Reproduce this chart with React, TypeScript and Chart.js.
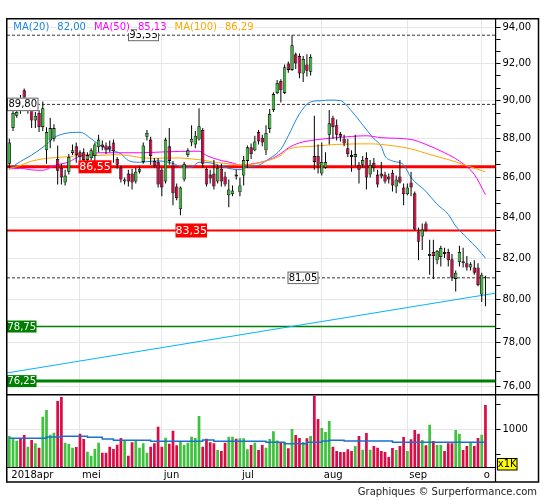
import React, { useEffect, useRef } from 'react';
import { Chart, registerables } from 'chart.js';

Chart.register(...registerables);

// ---------- data ----------
const monthIdx = [0, 19, 41, 62, 84, 107, 127];
const monthLabels = ['2018apr', 'mei', 'jun', 'jul', 'aug', 'sep', 'o'];

const opens = [
  86.70, 88.55, 89.20, 90.00, 90.55, 89.60, 89.75, 88.95, 89.35, 88.60,
  87.40, 87.90, 88.00, 86.95, 86.50, 85.75, 86.30, 87.25, 87.60, 87.30,
  87.30, 86.90, 87.00, 87.10, 87.55, 87.70, 87.65, 87.60, 87.80, 86.95,
  86.50, 85.80, 86.20, 86.20, 85.80, 86.30, 86.80, 88.10, 87.95, 86.85,
  86.80, 86.40, 85.80, 87.60, 86.60, 85.55, 84.40, 85.90, 87.15, 87.80,
  87.70, 87.95, 88.45, 86.45, 86.15, 86.20, 85.80, 86.45, 86.05, 85.10,
  85.15, 86.15, 85.25, 86.10, 86.85, 87.55, 87.40, 88.35, 88.05, 87.40,
  88.50, 89.50, 90.40, 91.05, 90.40, 92.00, 91.65, 92.50, 92.40, 91.45,
  91.95, 91.55, 87.10, 87.10, 86.20, 86.50, 88.20, 89.10, 88.70, 88.25,
  88.00, 87.50, 87.15, 87.05, 86.65, 86.65, 87.00, 86.15, 86.75, 86.15,
  86.20, 86.15, 86.05, 86.25, 85.55, 86.05, 85.50, 85.15, 85.75, 85.20,
  83.30, 83.05, 83.70, 82.10, 82.30, 81.90, 82.05, 82.30, 82.30, 81.95,
  81.00, 81.80, 81.85, 81.75, 81.55, 81.55, 81.55, 80.25, 81.10,
];
const highs = [
  88.00, 89.50, 89.75, 90.30, 90.65, 90.10, 90.00, 89.40, 89.50, 89.95,
  88.60, 89.10, 88.75, 87.65, 86.70, 86.40, 87.20, 87.70, 87.80, 87.40,
  87.50, 87.30, 87.50, 87.80, 88.20, 87.90, 87.80, 87.90, 87.95, 87.05,
  86.60, 86.00, 86.40, 86.45, 86.50, 86.60, 87.80, 88.45, 88.10, 87.00,
  87.00, 86.50, 88.05, 88.55, 86.85, 85.70, 85.55, 86.80, 87.50, 88.70,
  88.40, 89.60, 88.55, 86.50, 86.40, 86.90, 86.65, 86.70, 86.30, 85.90,
  85.60, 86.40, 86.00, 87.10, 87.65, 87.75, 88.15, 88.45, 88.20, 88.70,
  89.55, 90.45, 91.10, 91.15, 91.95, 92.10, 93.55, 92.60, 92.55, 92.40,
  92.50, 92.50, 89.20, 87.70, 87.80, 87.30, 89.50, 89.20, 89.00, 88.35,
  88.20, 88.00, 87.40, 88.20, 86.80, 87.10, 87.30, 86.90, 87.00, 86.40,
  86.80, 86.30, 86.20, 86.40, 86.10, 86.90, 85.70, 85.70, 86.30, 85.30,
  83.50, 83.70, 83.80, 82.90, 82.90, 82.40, 82.60, 82.50, 82.45, 82.20,
  81.40, 82.60, 82.50, 82.10, 81.80, 81.90, 81.75, 81.30, 81.15,
];
const lows = [
  86.50, 88.40, 89.10, 89.30, 89.90, 89.30, 88.55, 88.55, 88.35, 88.40,
  86.70, 87.50, 87.85, 85.65, 85.65, 85.60, 86.15, 87.15, 86.75, 86.90,
  86.80, 86.80, 86.90, 86.80, 87.30, 87.40, 87.20, 87.30, 86.75, 86.45,
  85.75, 85.65, 85.55, 85.40, 85.70, 86.20, 86.70, 87.90, 86.65, 86.50,
  85.50, 85.05, 85.70, 86.65, 84.60, 84.85, 84.10, 85.80, 87.05, 87.60,
  87.50, 87.90, 86.50, 85.55, 85.70, 85.40, 85.70, 85.55, 85.55, 84.50,
  85.05, 85.90, 85.05, 85.60, 86.50, 86.95, 87.35, 87.70, 87.60, 87.15,
  88.30, 89.40, 90.35, 89.90, 90.35, 91.50, 91.60, 91.70, 91.20, 91.00,
  91.30, 91.35, 86.40, 86.20, 86.10, 86.45, 87.70, 88.00, 87.90, 87.85,
  87.60, 87.05, 86.30, 86.60, 85.70, 86.50, 85.40, 86.00, 86.30, 85.50,
  85.95, 85.70, 85.70, 85.30, 85.20, 85.70, 84.60, 85.10, 85.05, 83.35,
  81.90, 82.40, 83.30, 81.20, 81.00, 81.70, 81.60, 82.00, 81.60, 80.90,
  80.40, 81.60, 81.55, 81.40, 81.40, 81.20, 80.65, 79.90, 79.70,
];
const closes = [
  87.80, 89.35, 89.40, 89.50, 90.15, 89.90, 88.95, 89.20, 88.60, 89.60,
  88.35, 88.55, 88.55, 86.35, 86.00, 86.10, 87.05, 87.40, 87.15, 87.05,
  86.90, 87.15, 87.40, 87.70, 87.95, 87.55, 87.40, 87.45, 87.35, 86.65,
  85.90, 85.90, 85.80, 85.75, 86.30, 86.45, 87.65, 88.30, 87.10, 86.60,
  85.65, 85.50, 87.95, 86.85, 85.20, 84.95, 85.50, 86.70, 87.40, 88.00,
  88.15, 88.65, 86.70, 85.65, 85.95, 85.55, 86.50, 85.80, 85.65, 85.40,
  85.35, 86.05, 85.60, 86.90, 87.55, 87.20, 87.85, 87.85, 87.80, 88.30,
  89.30, 90.35, 90.95, 90.55, 91.80, 91.65, 93.00, 92.00, 91.45, 92.25,
  91.60, 92.35, 86.80, 86.65, 86.80, 86.80, 88.80, 88.60, 88.20, 88.10,
  87.75, 87.20, 87.05, 87.20, 86.40, 86.90, 86.00, 86.65, 86.50, 85.65,
  86.05, 85.80, 85.90, 85.60, 85.90, 85.75, 85.15, 85.50, 85.50, 83.40,
  82.80, 83.40, 83.35, 82.20, 82.10, 82.35, 82.50, 82.20, 81.90, 81.05,
  81.30, 82.30, 81.75, 81.55, 81.70, 81.30, 80.70, 81.20, 81.05,
];
const volumes = [
  860, 813, 767, 807, 880, 647, 780, 713, 627, 1247,
  1380, 887, 927, 1560, 1640, 727, 700, 627, 640, 907,
  800, 547, 467, 600, 727, 527, 527, 647, 600, 687,
  820, 780, 467, 733, 780, 627, 713, 527, 647, 713,
  1047, 647, 827, 707, 967, 673, 760, 680, 727, 847,
  820, 1260, 647, 807, 733, 713, 580, 560, 727, 847,
  847, 807, 813, 813, 593, 680, 727, 580, 680, 627,
  800, 953, 770, 740, 733, 613, 1000, 880, 820, 740,
  813, 860, 1667, 1200, 1020, 940, 1160, 647, 560, 540,
  540, 593, 560, 660, 860, 587, 920, 587, 660, 627,
  560, 540, 440, 620, 580, 660, 840, 560, 793, 980,
  907, 780, 673, 1087, 760, 680, 680, 560, 713, 713,
  980, 907, 580, 660, 733, 660, 820, 887, 1480,
];

const ma20 = [
  [0, 86.44], [3, 86.82], [6, 87.15], [10, 87.7], [12, 88.05], [15, 88.27], [19, 88.33],
  [22, 88.0], [24, 87.7], [27, 87.42], [30, 87.22], [32, 86.87], [35, 86.78], [38, 86.83],
  [40, 86.85], [44, 86.72], [47, 86.5], [49, 86.53], [51, 86.78], [54, 86.75], [57, 86.58],
  [60, 86.43], [62, 86.4], [64, 86.55], [67, 86.63], [70, 86.98], [73, 87.45], [75, 88.15],
  [78, 89.3], [81, 89.93], [84, 90.0], [86, 90.03], [89, 90.0], [92, 89.45], [95, 88.72],
  [98, 88.0], [100, 87.6], [101, 87.1], [103, 86.85], [106, 86.65], [108, 86.0], [112, 85.3],
  [115, 84.65], [118, 84.15], [120, 83.57], [123, 83.0], [126, 82.43], [128, 82.0],
];
const ma50 = [
  [0, 86.44], [3, 86.47], [6, 86.39], [9, 86.37], [12, 86.6], [16, 86.8], [19, 87.1],
  [22, 87.18], [24, 87.27], [30, 87.27], [35, 87.27], [41, 87.31], [46, 87.34], [51, 87.35],
  [53, 87.13], [57, 86.87], [60, 86.75], [62, 86.64], [66, 86.72], [70, 86.92], [73, 87.23],
  [75, 87.52], [78, 87.78], [82, 87.93], [88, 88.05], [96, 88.15], [100, 88.05], [108, 87.96],
  [112, 87.7], [117, 87.27], [121, 86.84], [125, 86.16], [128, 85.13],
];
const ma100 = [
  [0, 86.44], [3, 86.62], [6, 86.84], [10, 86.98], [16, 87.07], [19, 87.13], [24, 87.13],
  [28, 87.17], [32, 87.13], [35, 87.03], [39, 86.98], [42, 87.0], [46, 87.0], [49, 86.95],
  [52, 86.89], [55, 86.79], [59, 86.7], [62, 86.64], [66, 86.7], [70, 86.9], [73, 87.13],
  [75, 87.46], [82, 87.61], [88, 87.7], [97, 87.73], [100, 87.7], [108, 87.47], [113, 87.18],
  [118, 86.92], [122, 86.67], [128, 86.29],
];
const volumeMa = [
  [0, 813], [10, 840], [14, 853], [21, 833], [25, 800], [28, 773], [38, 753], [52, 780],
  [55, 753], [69, 733], [74, 707], [80, 733], [84, 760], [86, 773], [90, 760], [103, 733],
  [128, 733],
];
const trendLine = [[-0.62, 76.62], [130.7, 80.32]];

const dashedLevels = [93.55, 89.8, 81.05];
const redLevels = [86.55, 83.35];
const greenLevels = [78.75, 76.25];

const legendNames = ['MA(20)', 'MA(50)', 'MA(100)'];
const legendValues = [82.0, 85.13, 86.29];

const priceLabels = [76, 78, 80, 82, 84, 86, 88, 90, 92, 94];
const volumeTicks = [500, 1000, 1500];
const volumeLabel = 1000;

// ---------- styling ----------
const X_MIN = -0.62;
const X_MAX = 130.7;
const P_MIN = 75.64;
const P_MAX = 94.45;
const V_MIN = 240;
const V_MAX = 1686;
const GREEN = '#33bb33';
const RED = '#d6003f';
const VGREEN = '#3cc23c';
const VRED = '#dc0a45';
const C20 = '#1a85e0';
const C50 = '#ff00ff';
const C100 = '#ffa500';
const FONT = "'DejaVu Sans', Verdana, sans-serif";
const GRID = '#e6e6e6';

const fmt = (v: number) => v.toFixed(2).replace('.', ',');
const isPriceLabel = (v: number) => priceLabels.some((l) => Math.abs(l - v) < 1e-6);

function drawTag(ctx: any, text: string, x: number, yc: number, w: number, h: number,
  bg: string, fg: string, border: string | null, size: number) {
  ctx.fillStyle = bg;
  ctx.fillRect(x, yc - h / 2, w, h);
  if (border) {
    ctx.strokeStyle = border;
    ctx.lineWidth = 1;
    ctx.strokeRect(x + 0.5, yc - h / 2 + 0.5, w - 1, h - 1);
  }
  ctx.fillStyle = fg;
  ctx.font = `${size}px ${FONT}`;
  ctx.textAlign = 'center';
  ctx.textBaseline = 'middle';
  ctx.fillText(text, x + w / 2, yc + 0.5);
}

const overlay = {
  id: 'overlay',
  afterDatasetsDraw(chart: any) {
    const ctx = chart.ctx;
    const ys = chart.scales.y;
    ctx.save();
    drawTag(ctx, fmt(dashedLevels[0]), 128, ys.getPixelForValue(dashedLevels[0]), 31, 12, '#fff', '#000', '#666', 10);
    drawTag(ctx, fmt(dashedLevels[1]), 7, ys.getPixelForValue(dashedLevels[1]), 31.5, 13.5, '#fff', '#000', '#666', 10);
    drawTag(ctx, fmt(dashedLevels[2]), 287.5, ys.getPixelForValue(dashedLevels[2]), 31, 12.5, '#fff', '#000', '#666', 10);
    drawTag(ctx, fmt(redLevels[0]), 78.5, ys.getPixelForValue(redLevels[0]), 33, 13, '#ff0000', '#fff', null, 11);
    drawTag(ctx, fmt(redLevels[1]), 175.5, ys.getPixelForValue(redLevels[1]), 31.5, 14, '#ff0000', '#fff', null, 11);
    drawTag(ctx, fmt(greenLevels[0]), 7, ys.getPixelForValue(greenLevels[0]), 29.5, 12, '#008000', '#fff', null, 10);
    drawTag(ctx, fmt(greenLevels[1]), 7, ys.getPixelForValue(greenLevels[1]), 29.5, 12, '#008000', '#fff', null, 10);
    ctx.restore();
  },
  afterDraw(chart: any) {
    const ctx = chart.ctx;
    const area = chart.chartArea;
    const ys = chart.scales.y;
    ctx.save();
    // legend
    ctx.font = `10px ${FONT}`;
    ctx.textBaseline = 'middle';
    ctx.textAlign = 'left';
    const colors = [C20, C50, C100];
    let cx = 13.3;
    for (let k = 0; k < legendNames.length; k++) {
      const words = [legendNames[k], fmt(legendValues[k])];
      for (const wd of words) {
        const w = ctx.measureText(wd).width;
        ctx.fillStyle = '#fff';
        ctx.fillRect(cx - 1, 21, w + 2, 12);
        ctx.fillStyle = colors[k];
        ctx.fillText(wd, cx, 27);
        cx += w + 8;
      }
    }
    // frame
    ctx.strokeStyle = '#000';
    ctx.lineWidth = 1.5;
    ctx.strokeRect(6.75, 18.75, 531.75, 463.25);
    ctx.beginPath();
    ctx.moveTo(6.75, ys.bottom);
    ctx.lineTo(538.5, ys.bottom);
    ctx.stroke();
    ctx.lineWidth = 1.2;
    ctx.beginPath();
    ctx.moveTo(area.right, area.bottom);
    ctx.lineTo(area.right, 482);
    ctx.stroke();
    // x1K box
    ctx.fillStyle = '#ffff00';
    ctx.fillRect(497.5, 458.5, 19.5, 11.5);
    ctx.lineWidth = 1;
    ctx.strokeRect(497.5, 458.5, 19.5, 11.5);
    ctx.fillStyle = '#000';
    ctx.font = `10px ${FONT}`;
    ctx.textAlign = 'center';
    ctx.textBaseline = 'middle';
    ctx.fillText('x1K', 507.25, 464.5);
    // footer
    ctx.textAlign = 'right';
    ctx.textBaseline = 'alphabetic';
    ctx.fillStyle = '#222';
    ctx.fillText('Graphiques © Surperformance.com', 537, 494.5);
    ctx.restore();
  },
};

function levelLine(v: number, color: string, width: number, dash: number[] = []) {
  return {
    type: 'line', data: [{ x: X_MIN, y: v }, { x: X_MAX, y: v }], borderColor: color,
    borderWidth: width, borderDash: dash, pointRadius: 0, fill: false, yAxisID: 'y', order: 10,
  };
}
function maLine(pts: number[][], color: string, yAxisID = 'y', order = 8, extra: any = {}) {
  return {
    type: 'line', data: pts.map(([x, y]) => ({ x, y })), borderColor: color, borderWidth: 1,
    pointRadius: 0, fill: false, yAxisID, order, ...extra,
  };
}

export default function App() {
  const ref = useRef<HTMLCanvasElement>(null);
  useEffect(() => {
    const idx = opens.map((_, i) => i);
    const up = idx.map((i) => closes[i] >= opens[i]);
    const priceTicks: number[] = [];
    priceLabels.forEach((l) => {
      priceTicks.push(l);
      if (l < priceLabels[priceLabels.length - 1]) priceTicks.push(l + 2 / 3, l + 4 / 3);
    });

    const datasets: any[] = [
      ...dashedLevels.map((v) => levelLine(v, '#333', 1, [3, 2])),
      levelLine(redLevels[0], '#ff0000', 3),
      levelLine(redLevels[1], '#ff0000', 2),
      levelLine(greenLevels[0], '#008000', 1.5),
      levelLine(greenLevels[1], '#008000', 3),
      maLine(trendLine, '#00b4ff', 'y', 9),
      maLine(ma100, C100, 'y', 8, { cubicInterpolationMode: 'monotone' }),
      maLine(ma50, C50, 'y', 8, { cubicInterpolationMode: 'monotone' }),
      maLine(ma20, C20, 'y', 8, { cubicInterpolationMode: 'monotone' }),
      {
        type: 'bar', data: idx.map((i) => ({ x: i, y: [lows[i], highs[i]] })), backgroundColor: '#000',
        borderWidth: 0, barThickness: 1, grouped: false, inflateAmount: 0, yAxisID: 'y', order: 3,
      },
      {
        type: 'bar',
        data: idx.map((i) => ({ x: i, y: [Math.min(opens[i], closes[i]), Math.max(opens[i], closes[i])] })),
        backgroundColor: up.map((u) => (u ? GREEN : RED)), borderColor: '#000', borderWidth: 0.8,
        borderSkipped: false, barThickness: 3.4, grouped: false, inflateAmount: 0, minBarLength: 1,
        yAxisID: 'y', order: 2,
      },
      {
        type: 'bar', data: idx.map((i) => ({ x: i, y: volumes[i] })),
        backgroundColor: up.map((u) => (u ? VGREEN : VRED)), borderWidth: 0, barThickness: 2.7,
        grouped: false, inflateAmount: 0, yAxisID: 'yv', order: 4,
      },
      maLine(volumeMa, '#1a6fd0', 'yv', 1, { stepped: true, borderWidth: 1.5 }),
    ];

    Chart.defaults.font.family = FONT;
    Chart.defaults.font.size = 10;
    const chart = new Chart(ref.current as HTMLCanvasElement, {
      type: 'bar',
      data: { datasets },
      options: {
        animation: false,
        responsive: false,
        events: [],
        layout: { padding: { left: 7, top: 19, right: 6.5, bottom: 18 }, autoPadding: false },
        plugins: { legend: { display: false }, tooltip: { enabled: false } },
        scales: {
          x: {
            type: 'linear', min: X_MIN, max: X_MAX, offset: false,
            afterBuildTicks: (s: any) => { s.ticks = monthIdx.map((v) => ({ value: v })); },
            afterFit: (s: any) => { s.height = 15; },
            ticks: {
              callback: (_v: any, i: number) => monthLabels[i], align: 'start', labelOffset: 2,
              padding: 2, autoSkip: false, maxRotation: 0, color: '#000', font: { size: 10, family: FONT },
            },
            grid: { offset: false, drawTicks: false, color: (c: any) => (c.index === 0 ? 'rgba(0,0,0,0)' : GRID) },
            border: { display: true, color: '#000', width: 1 },
          },
          y: {
            type: 'logarithmic', position: 'right', stack: 'p', stackWeight: 375.7, min: P_MIN, max: P_MAX,
            afterBuildTicks: (s: any) => { s.ticks = priceTicks.map((v) => ({ value: v })); },
            afterFit: (s: any) => { s.width = 43; },
            ticks: {
              callback: (v: any) => (isPriceLabel(v) ? fmt(v) : ''), autoSkip: false, padding: 2,
              color: '#000', font: { size: 10, family: FONT },
            },
            grid: {
              color: (c: any) => (c.tick && isPriceLabel(c.tick.value) ? GRID : 'rgba(0,0,0,0)'),
              tickColor: '#000', tickLength: 5, tickWidth: 1,
            },
            border: { display: true, color: '#000', width: 1.2 },
          },
          yv: {
            type: 'linear', position: 'right', stack: 'p', stackWeight: 72.3, min: V_MIN, max: V_MAX,
            afterBuildTicks: (s: any) => { s.ticks = volumeTicks.map((v) => ({ value: v })); },
            afterFit: (s: any) => { s.width = 43; },
            ticks: {
              callback: (v: any) => (v === volumeLabel ? String(v) : ''), autoSkip: false, padding: 2,
              color: '#000', font: { size: 10, family: FONT },
            },
            grid: {
              color: (c: any) => (c.tick && c.tick.value === volumeLabel ? GRID : 'rgba(0,0,0,0)'),
              tickColor: '#000', tickLength: 5, tickWidth: 1,
            },
            border: { display: true, color: '#000', width: 1.2 },
          },
        },
      } as any,
      plugins: [overlay as any],
    } as any);
    return () => chart.destroy();
  }, []);

  return (
    <div style={{ position: 'absolute', left: 0, top: 0, width: 545, height: 500, background: '#fff' }}>
      <canvas ref={ref} width={545} height={500} style={{ display: 'block', width: 545, height: 500 }} />
    </div>
  );
}
